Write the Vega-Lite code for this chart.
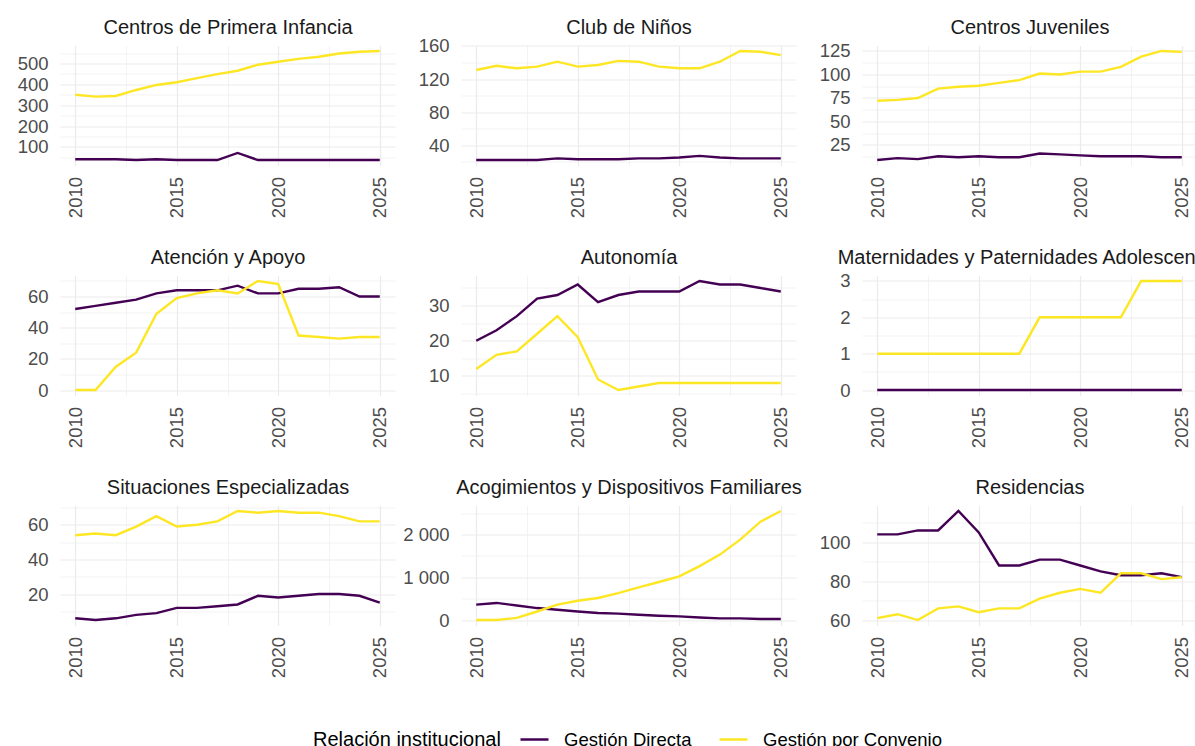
{
"$schema": "https://vega.github.io/schema/vega-lite/v6.json",
"padding": {"left": 17, "top": 17.5, "right": 0, "bottom": 0},
"bounds": "flush",
"columns": 3,
"spacing": {"row": 110, "column": 66},
"datasets": {"d": [
{"programa":"Centros de Primera Infancia","relacion":"Gestión Directa","anio":2010,"valor":41},
{"programa":"Centros de Primera Infancia","relacion":"Gestión Directa","anio":2011,"valor":41},
{"programa":"Centros de Primera Infancia","relacion":"Gestión Directa","anio":2012,"valor":41},
{"programa":"Centros de Primera Infancia","relacion":"Gestión Directa","anio":2013,"valor":37},
{"programa":"Centros de Primera Infancia","relacion":"Gestión Directa","anio":2014,"valor":41},
{"programa":"Centros de Primera Infancia","relacion":"Gestión Directa","anio":2015,"valor":37},
{"programa":"Centros de Primera Infancia","relacion":"Gestión Directa","anio":2016,"valor":37},
{"programa":"Centros de Primera Infancia","relacion":"Gestión Directa","anio":2017,"valor":37},
{"programa":"Centros de Primera Infancia","relacion":"Gestión Directa","anio":2018,"valor":71},
{"programa":"Centros de Primera Infancia","relacion":"Gestión Directa","anio":2019,"valor":37},
{"programa":"Centros de Primera Infancia","relacion":"Gestión Directa","anio":2020,"valor":37},
{"programa":"Centros de Primera Infancia","relacion":"Gestión Directa","anio":2021,"valor":37},
{"programa":"Centros de Primera Infancia","relacion":"Gestión Directa","anio":2022,"valor":37},
{"programa":"Centros de Primera Infancia","relacion":"Gestión Directa","anio":2023,"valor":37},
{"programa":"Centros de Primera Infancia","relacion":"Gestión Directa","anio":2024,"valor":37},
{"programa":"Centros de Primera Infancia","relacion":"Gestión Directa","anio":2025,"valor":37},
{"programa":"Centros de Primera Infancia","relacion":"Gestión por Convenio","anio":2010,"valor":350},
{"programa":"Centros de Primera Infancia","relacion":"Gestión por Convenio","anio":2011,"valor":341},
{"programa":"Centros de Primera Infancia","relacion":"Gestión por Convenio","anio":2012,"valor":344},
{"programa":"Centros de Primera Infancia","relacion":"Gestión por Convenio","anio":2013,"valor":373},
{"programa":"Centros de Primera Infancia","relacion":"Gestión por Convenio","anio":2014,"valor":397},
{"programa":"Centros de Primera Infancia","relacion":"Gestión por Convenio","anio":2015,"valor":410},
{"programa":"Centros de Primera Infancia","relacion":"Gestión por Convenio","anio":2016,"valor":430},
{"programa":"Centros de Primera Infancia","relacion":"Gestión por Convenio","anio":2017,"valor":449},
{"programa":"Centros de Primera Infancia","relacion":"Gestión por Convenio","anio":2018,"valor":465},
{"programa":"Centros de Primera Infancia","relacion":"Gestión por Convenio","anio":2019,"valor":494},
{"programa":"Centros de Primera Infancia","relacion":"Gestión por Convenio","anio":2020,"valor":508},
{"programa":"Centros de Primera Infancia","relacion":"Gestión por Convenio","anio":2021,"valor":522},
{"programa":"Centros de Primera Infancia","relacion":"Gestión por Convenio","anio":2022,"valor":532},
{"programa":"Centros de Primera Infancia","relacion":"Gestión por Convenio","anio":2023,"valor":548},
{"programa":"Centros de Primera Infancia","relacion":"Gestión por Convenio","anio":2024,"valor":556},
{"programa":"Centros de Primera Infancia","relacion":"Gestión por Convenio","anio":2025,"valor":560},
{"programa":"Club de Niños","relacion":"Gestión Directa","anio":2010,"valor":22},
{"programa":"Club de Niños","relacion":"Gestión Directa","anio":2011,"valor":22},
{"programa":"Club de Niños","relacion":"Gestión Directa","anio":2012,"valor":22},
{"programa":"Club de Niños","relacion":"Gestión Directa","anio":2013,"valor":22},
{"programa":"Club de Niños","relacion":"Gestión Directa","anio":2014,"valor":24},
{"programa":"Club de Niños","relacion":"Gestión Directa","anio":2015,"valor":23},
{"programa":"Club de Niños","relacion":"Gestión Directa","anio":2016,"valor":23},
{"programa":"Club de Niños","relacion":"Gestión Directa","anio":2017,"valor":23},
{"programa":"Club de Niños","relacion":"Gestión Directa","anio":2018,"valor":24},
{"programa":"Club de Niños","relacion":"Gestión Directa","anio":2019,"valor":24},
{"programa":"Club de Niños","relacion":"Gestión Directa","anio":2020,"valor":25},
{"programa":"Club de Niños","relacion":"Gestión Directa","anio":2021,"valor":27},
{"programa":"Club de Niños","relacion":"Gestión Directa","anio":2022,"valor":25},
{"programa":"Club de Niños","relacion":"Gestión Directa","anio":2023,"valor":24},
{"programa":"Club de Niños","relacion":"Gestión Directa","anio":2024,"valor":24},
{"programa":"Club de Niños","relacion":"Gestión Directa","anio":2025,"valor":24},
{"programa":"Club de Niños","relacion":"Gestión por Convenio","anio":2010,"valor":131},
{"programa":"Club de Niños","relacion":"Gestión por Convenio","anio":2011,"valor":136},
{"programa":"Club de Niños","relacion":"Gestión por Convenio","anio":2012,"valor":133},
{"programa":"Club de Niños","relacion":"Gestión por Convenio","anio":2013,"valor":135},
{"programa":"Club de Niños","relacion":"Gestión por Convenio","anio":2014,"valor":141},
{"programa":"Club de Niños","relacion":"Gestión por Convenio","anio":2015,"valor":135},
{"programa":"Club de Niños","relacion":"Gestión por Convenio","anio":2016,"valor":137},
{"programa":"Club de Niños","relacion":"Gestión por Convenio","anio":2017,"valor":142},
{"programa":"Club de Niños","relacion":"Gestión por Convenio","anio":2018,"valor":141},
{"programa":"Club de Niños","relacion":"Gestión por Convenio","anio":2019,"valor":135},
{"programa":"Club de Niños","relacion":"Gestión por Convenio","anio":2020,"valor":133},
{"programa":"Club de Niños","relacion":"Gestión por Convenio","anio":2021,"valor":133},
{"programa":"Club de Niños","relacion":"Gestión por Convenio","anio":2022,"valor":141},
{"programa":"Club de Niños","relacion":"Gestión por Convenio","anio":2023,"valor":154},
{"programa":"Club de Niños","relacion":"Gestión por Convenio","anio":2024,"valor":153},
{"programa":"Club de Niños","relacion":"Gestión por Convenio","anio":2025,"valor":149},
{"programa":"Centros Juveniles","relacion":"Gestión Directa","anio":2010,"valor":9},
{"programa":"Centros Juveniles","relacion":"Gestión Directa","anio":2011,"valor":11},
{"programa":"Centros Juveniles","relacion":"Gestión Directa","anio":2012,"valor":10},
{"programa":"Centros Juveniles","relacion":"Gestión Directa","anio":2013,"valor":13},
{"programa":"Centros Juveniles","relacion":"Gestión Directa","anio":2014,"valor":12},
{"programa":"Centros Juveniles","relacion":"Gestión Directa","anio":2015,"valor":13},
{"programa":"Centros Juveniles","relacion":"Gestión Directa","anio":2016,"valor":12},
{"programa":"Centros Juveniles","relacion":"Gestión Directa","anio":2017,"valor":12},
{"programa":"Centros Juveniles","relacion":"Gestión Directa","anio":2018,"valor":16},
{"programa":"Centros Juveniles","relacion":"Gestión Directa","anio":2019,"valor":15},
{"programa":"Centros Juveniles","relacion":"Gestión Directa","anio":2020,"valor":14},
{"programa":"Centros Juveniles","relacion":"Gestión Directa","anio":2021,"valor":13},
{"programa":"Centros Juveniles","relacion":"Gestión Directa","anio":2022,"valor":13},
{"programa":"Centros Juveniles","relacion":"Gestión Directa","anio":2023,"valor":13},
{"programa":"Centros Juveniles","relacion":"Gestión Directa","anio":2024,"valor":12},
{"programa":"Centros Juveniles","relacion":"Gestión Directa","anio":2025,"valor":12},
{"programa":"Centros Juveniles","relacion":"Gestión por Convenio","anio":2010,"valor":72},
{"programa":"Centros Juveniles","relacion":"Gestión por Convenio","anio":2011,"valor":73},
{"programa":"Centros Juveniles","relacion":"Gestión por Convenio","anio":2012,"valor":75},
{"programa":"Centros Juveniles","relacion":"Gestión por Convenio","anio":2013,"valor":85},
{"programa":"Centros Juveniles","relacion":"Gestión por Convenio","anio":2014,"valor":87},
{"programa":"Centros Juveniles","relacion":"Gestión por Convenio","anio":2015,"valor":88},
{"programa":"Centros Juveniles","relacion":"Gestión por Convenio","anio":2016,"valor":91},
{"programa":"Centros Juveniles","relacion":"Gestión por Convenio","anio":2017,"valor":94},
{"programa":"Centros Juveniles","relacion":"Gestión por Convenio","anio":2018,"valor":101},
{"programa":"Centros Juveniles","relacion":"Gestión por Convenio","anio":2019,"valor":100},
{"programa":"Centros Juveniles","relacion":"Gestión por Convenio","anio":2020,"valor":103},
{"programa":"Centros Juveniles","relacion":"Gestión por Convenio","anio":2021,"valor":103},
{"programa":"Centros Juveniles","relacion":"Gestión por Convenio","anio":2022,"valor":108},
{"programa":"Centros Juveniles","relacion":"Gestión por Convenio","anio":2023,"valor":119},
{"programa":"Centros Juveniles","relacion":"Gestión por Convenio","anio":2024,"valor":125},
{"programa":"Centros Juveniles","relacion":"Gestión por Convenio","anio":2025,"valor":124},
{"programa":"Atención y Apoyo","relacion":"Gestión Directa","anio":2010,"valor":52},
{"programa":"Atención y Apoyo","relacion":"Gestión Directa","anio":2011,"valor":54},
{"programa":"Atención y Apoyo","relacion":"Gestión Directa","anio":2012,"valor":56},
{"programa":"Atención y Apoyo","relacion":"Gestión Directa","anio":2013,"valor":58},
{"programa":"Atención y Apoyo","relacion":"Gestión Directa","anio":2014,"valor":62},
{"programa":"Atención y Apoyo","relacion":"Gestión Directa","anio":2015,"valor":64},
{"programa":"Atención y Apoyo","relacion":"Gestión Directa","anio":2016,"valor":64},
{"programa":"Atención y Apoyo","relacion":"Gestión Directa","anio":2017,"valor":64},
{"programa":"Atención y Apoyo","relacion":"Gestión Directa","anio":2018,"valor":67},
{"programa":"Atención y Apoyo","relacion":"Gestión Directa","anio":2019,"valor":62},
{"programa":"Atención y Apoyo","relacion":"Gestión Directa","anio":2020,"valor":62},
{"programa":"Atención y Apoyo","relacion":"Gestión Directa","anio":2021,"valor":65},
{"programa":"Atención y Apoyo","relacion":"Gestión Directa","anio":2022,"valor":65},
{"programa":"Atención y Apoyo","relacion":"Gestión Directa","anio":2023,"valor":66},
{"programa":"Atención y Apoyo","relacion":"Gestión Directa","anio":2024,"valor":60},
{"programa":"Atención y Apoyo","relacion":"Gestión Directa","anio":2025,"valor":60},
{"programa":"Atención y Apoyo","relacion":"Gestión por Convenio","anio":2010,"valor":0},
{"programa":"Atención y Apoyo","relacion":"Gestión por Convenio","anio":2011,"valor":0},
{"programa":"Atención y Apoyo","relacion":"Gestión por Convenio","anio":2012,"valor":15},
{"programa":"Atención y Apoyo","relacion":"Gestión por Convenio","anio":2013,"valor":24},
{"programa":"Atención y Apoyo","relacion":"Gestión por Convenio","anio":2014,"valor":49},
{"programa":"Atención y Apoyo","relacion":"Gestión por Convenio","anio":2015,"valor":59},
{"programa":"Atención y Apoyo","relacion":"Gestión por Convenio","anio":2016,"valor":62},
{"programa":"Atención y Apoyo","relacion":"Gestión por Convenio","anio":2017,"valor":64},
{"programa":"Atención y Apoyo","relacion":"Gestión por Convenio","anio":2018,"valor":62},
{"programa":"Atención y Apoyo","relacion":"Gestión por Convenio","anio":2019,"valor":70},
{"programa":"Atención y Apoyo","relacion":"Gestión por Convenio","anio":2020,"valor":68},
{"programa":"Atención y Apoyo","relacion":"Gestión por Convenio","anio":2021,"valor":35},
{"programa":"Atención y Apoyo","relacion":"Gestión por Convenio","anio":2022,"valor":34},
{"programa":"Atención y Apoyo","relacion":"Gestión por Convenio","anio":2023,"valor":33},
{"programa":"Atención y Apoyo","relacion":"Gestión por Convenio","anio":2024,"valor":34},
{"programa":"Atención y Apoyo","relacion":"Gestión por Convenio","anio":2025,"valor":34},
{"programa":"Autonomía","relacion":"Gestión Directa","anio":2010,"valor":20},
{"programa":"Autonomía","relacion":"Gestión Directa","anio":2011,"valor":23},
{"programa":"Autonomía","relacion":"Gestión Directa","anio":2012,"valor":27},
{"programa":"Autonomía","relacion":"Gestión Directa","anio":2013,"valor":32},
{"programa":"Autonomía","relacion":"Gestión Directa","anio":2014,"valor":33},
{"programa":"Autonomía","relacion":"Gestión Directa","anio":2015,"valor":36},
{"programa":"Autonomía","relacion":"Gestión Directa","anio":2016,"valor":31},
{"programa":"Autonomía","relacion":"Gestión Directa","anio":2017,"valor":33},
{"programa":"Autonomía","relacion":"Gestión Directa","anio":2018,"valor":34},
{"programa":"Autonomía","relacion":"Gestión Directa","anio":2019,"valor":34},
{"programa":"Autonomía","relacion":"Gestión Directa","anio":2020,"valor":34},
{"programa":"Autonomía","relacion":"Gestión Directa","anio":2021,"valor":37},
{"programa":"Autonomía","relacion":"Gestión Directa","anio":2022,"valor":36},
{"programa":"Autonomía","relacion":"Gestión Directa","anio":2023,"valor":36},
{"programa":"Autonomía","relacion":"Gestión Directa","anio":2024,"valor":35},
{"programa":"Autonomía","relacion":"Gestión Directa","anio":2025,"valor":34},
{"programa":"Autonomía","relacion":"Gestión por Convenio","anio":2010,"valor":12},
{"programa":"Autonomía","relacion":"Gestión por Convenio","anio":2011,"valor":16},
{"programa":"Autonomía","relacion":"Gestión por Convenio","anio":2012,"valor":17},
{"programa":"Autonomía","relacion":"Gestión por Convenio","anio":2013,"valor":22},
{"programa":"Autonomía","relacion":"Gestión por Convenio","anio":2014,"valor":27},
{"programa":"Autonomía","relacion":"Gestión por Convenio","anio":2015,"valor":21},
{"programa":"Autonomía","relacion":"Gestión por Convenio","anio":2016,"valor":9},
{"programa":"Autonomía","relacion":"Gestión por Convenio","anio":2017,"valor":6},
{"programa":"Autonomía","relacion":"Gestión por Convenio","anio":2018,"valor":7},
{"programa":"Autonomía","relacion":"Gestión por Convenio","anio":2019,"valor":8},
{"programa":"Autonomía","relacion":"Gestión por Convenio","anio":2020,"valor":8},
{"programa":"Autonomía","relacion":"Gestión por Convenio","anio":2021,"valor":8},
{"programa":"Autonomía","relacion":"Gestión por Convenio","anio":2022,"valor":8},
{"programa":"Autonomía","relacion":"Gestión por Convenio","anio":2023,"valor":8},
{"programa":"Autonomía","relacion":"Gestión por Convenio","anio":2024,"valor":8},
{"programa":"Autonomía","relacion":"Gestión por Convenio","anio":2025,"valor":8},
{"programa":"Maternidades y Paternidades Adolescentes","relacion":"Gestión Directa","anio":2010,"valor":0},
{"programa":"Maternidades y Paternidades Adolescentes","relacion":"Gestión Directa","anio":2011,"valor":0},
{"programa":"Maternidades y Paternidades Adolescentes","relacion":"Gestión Directa","anio":2012,"valor":0},
{"programa":"Maternidades y Paternidades Adolescentes","relacion":"Gestión Directa","anio":2013,"valor":0},
{"programa":"Maternidades y Paternidades Adolescentes","relacion":"Gestión Directa","anio":2014,"valor":0},
{"programa":"Maternidades y Paternidades Adolescentes","relacion":"Gestión Directa","anio":2015,"valor":0},
{"programa":"Maternidades y Paternidades Adolescentes","relacion":"Gestión Directa","anio":2016,"valor":0},
{"programa":"Maternidades y Paternidades Adolescentes","relacion":"Gestión Directa","anio":2017,"valor":0},
{"programa":"Maternidades y Paternidades Adolescentes","relacion":"Gestión Directa","anio":2018,"valor":0},
{"programa":"Maternidades y Paternidades Adolescentes","relacion":"Gestión Directa","anio":2019,"valor":0},
{"programa":"Maternidades y Paternidades Adolescentes","relacion":"Gestión Directa","anio":2020,"valor":0},
{"programa":"Maternidades y Paternidades Adolescentes","relacion":"Gestión Directa","anio":2021,"valor":0},
{"programa":"Maternidades y Paternidades Adolescentes","relacion":"Gestión Directa","anio":2022,"valor":0},
{"programa":"Maternidades y Paternidades Adolescentes","relacion":"Gestión Directa","anio":2023,"valor":0},
{"programa":"Maternidades y Paternidades Adolescentes","relacion":"Gestión Directa","anio":2024,"valor":0},
{"programa":"Maternidades y Paternidades Adolescentes","relacion":"Gestión Directa","anio":2025,"valor":0},
{"programa":"Maternidades y Paternidades Adolescentes","relacion":"Gestión por Convenio","anio":2010,"valor":1},
{"programa":"Maternidades y Paternidades Adolescentes","relacion":"Gestión por Convenio","anio":2011,"valor":1},
{"programa":"Maternidades y Paternidades Adolescentes","relacion":"Gestión por Convenio","anio":2012,"valor":1},
{"programa":"Maternidades y Paternidades Adolescentes","relacion":"Gestión por Convenio","anio":2013,"valor":1},
{"programa":"Maternidades y Paternidades Adolescentes","relacion":"Gestión por Convenio","anio":2014,"valor":1},
{"programa":"Maternidades y Paternidades Adolescentes","relacion":"Gestión por Convenio","anio":2015,"valor":1},
{"programa":"Maternidades y Paternidades Adolescentes","relacion":"Gestión por Convenio","anio":2016,"valor":1},
{"programa":"Maternidades y Paternidades Adolescentes","relacion":"Gestión por Convenio","anio":2017,"valor":1},
{"programa":"Maternidades y Paternidades Adolescentes","relacion":"Gestión por Convenio","anio":2018,"valor":2},
{"programa":"Maternidades y Paternidades Adolescentes","relacion":"Gestión por Convenio","anio":2019,"valor":2},
{"programa":"Maternidades y Paternidades Adolescentes","relacion":"Gestión por Convenio","anio":2020,"valor":2},
{"programa":"Maternidades y Paternidades Adolescentes","relacion":"Gestión por Convenio","anio":2021,"valor":2},
{"programa":"Maternidades y Paternidades Adolescentes","relacion":"Gestión por Convenio","anio":2022,"valor":2},
{"programa":"Maternidades y Paternidades Adolescentes","relacion":"Gestión por Convenio","anio":2023,"valor":3},
{"programa":"Maternidades y Paternidades Adolescentes","relacion":"Gestión por Convenio","anio":2024,"valor":3},
{"programa":"Maternidades y Paternidades Adolescentes","relacion":"Gestión por Convenio","anio":2025,"valor":3},
{"programa":"Situaciones Especializadas","relacion":"Gestión Directa","anio":2010,"valor":6},
{"programa":"Situaciones Especializadas","relacion":"Gestión Directa","anio":2011,"valor":5},
{"programa":"Situaciones Especializadas","relacion":"Gestión Directa","anio":2012,"valor":6},
{"programa":"Situaciones Especializadas","relacion":"Gestión Directa","anio":2013,"valor":8},
{"programa":"Situaciones Especializadas","relacion":"Gestión Directa","anio":2014,"valor":9},
{"programa":"Situaciones Especializadas","relacion":"Gestión Directa","anio":2015,"valor":12},
{"programa":"Situaciones Especializadas","relacion":"Gestión Directa","anio":2016,"valor":12},
{"programa":"Situaciones Especializadas","relacion":"Gestión Directa","anio":2017,"valor":13},
{"programa":"Situaciones Especializadas","relacion":"Gestión Directa","anio":2018,"valor":14},
{"programa":"Situaciones Especializadas","relacion":"Gestión Directa","anio":2019,"valor":19},
{"programa":"Situaciones Especializadas","relacion":"Gestión Directa","anio":2020,"valor":18},
{"programa":"Situaciones Especializadas","relacion":"Gestión Directa","anio":2021,"valor":19},
{"programa":"Situaciones Especializadas","relacion":"Gestión Directa","anio":2022,"valor":20},
{"programa":"Situaciones Especializadas","relacion":"Gestión Directa","anio":2023,"valor":20},
{"programa":"Situaciones Especializadas","relacion":"Gestión Directa","anio":2024,"valor":19},
{"programa":"Situaciones Especializadas","relacion":"Gestión Directa","anio":2025,"valor":15},
{"programa":"Situaciones Especializadas","relacion":"Gestión por Convenio","anio":2010,"valor":54},
{"programa":"Situaciones Especializadas","relacion":"Gestión por Convenio","anio":2011,"valor":55},
{"programa":"Situaciones Especializadas","relacion":"Gestión por Convenio","anio":2012,"valor":54},
{"programa":"Situaciones Especializadas","relacion":"Gestión por Convenio","anio":2013,"valor":59},
{"programa":"Situaciones Especializadas","relacion":"Gestión por Convenio","anio":2014,"valor":65},
{"programa":"Situaciones Especializadas","relacion":"Gestión por Convenio","anio":2015,"valor":59},
{"programa":"Situaciones Especializadas","relacion":"Gestión por Convenio","anio":2016,"valor":60},
{"programa":"Situaciones Especializadas","relacion":"Gestión por Convenio","anio":2017,"valor":62},
{"programa":"Situaciones Especializadas","relacion":"Gestión por Convenio","anio":2018,"valor":68},
{"programa":"Situaciones Especializadas","relacion":"Gestión por Convenio","anio":2019,"valor":67},
{"programa":"Situaciones Especializadas","relacion":"Gestión por Convenio","anio":2020,"valor":68},
{"programa":"Situaciones Especializadas","relacion":"Gestión por Convenio","anio":2021,"valor":67},
{"programa":"Situaciones Especializadas","relacion":"Gestión por Convenio","anio":2022,"valor":67},
{"programa":"Situaciones Especializadas","relacion":"Gestión por Convenio","anio":2023,"valor":65},
{"programa":"Situaciones Especializadas","relacion":"Gestión por Convenio","anio":2024,"valor":62},
{"programa":"Situaciones Especializadas","relacion":"Gestión por Convenio","anio":2025,"valor":62},
{"programa":"Acogimientos y Dispositivos Familiares","relacion":"Gestión Directa","anio":2010,"valor":360},
{"programa":"Acogimientos y Dispositivos Familiares","relacion":"Gestión Directa","anio":2011,"valor":400},
{"programa":"Acogimientos y Dispositivos Familiares","relacion":"Gestión Directa","anio":2012,"valor":340},
{"programa":"Acogimientos y Dispositivos Familiares","relacion":"Gestión Directa","anio":2013,"valor":280},
{"programa":"Acogimientos y Dispositivos Familiares","relacion":"Gestión Directa","anio":2014,"valor":240},
{"programa":"Acogimientos y Dispositivos Familiares","relacion":"Gestión Directa","anio":2015,"valor":200},
{"programa":"Acogimientos y Dispositivos Familiares","relacion":"Gestión Directa","anio":2016,"valor":165},
{"programa":"Acogimientos y Dispositivos Familiares","relacion":"Gestión Directa","anio":2017,"valor":150},
{"programa":"Acogimientos y Dispositivos Familiares","relacion":"Gestión Directa","anio":2018,"valor":125},
{"programa":"Acogimientos y Dispositivos Familiares","relacion":"Gestión Directa","anio":2019,"valor":100},
{"programa":"Acogimientos y Dispositivos Familiares","relacion":"Gestión Directa","anio":2020,"valor":85},
{"programa":"Acogimientos y Dispositivos Familiares","relacion":"Gestión Directa","anio":2021,"valor":60},
{"programa":"Acogimientos y Dispositivos Familiares","relacion":"Gestión Directa","anio":2022,"valor":40},
{"programa":"Acogimientos y Dispositivos Familiares","relacion":"Gestión Directa","anio":2023,"valor":40},
{"programa":"Acogimientos y Dispositivos Familiares","relacion":"Gestión Directa","anio":2024,"valor":25},
{"programa":"Acogimientos y Dispositivos Familiares","relacion":"Gestión Directa","anio":2025,"valor":25},
{"programa":"Acogimientos y Dispositivos Familiares","relacion":"Gestión por Convenio","anio":2010,"valor":0},
{"programa":"Acogimientos y Dispositivos Familiares","relacion":"Gestión por Convenio","anio":2011,"valor":0},
{"programa":"Acogimientos y Dispositivos Familiares","relacion":"Gestión por Convenio","anio":2012,"valor":50},
{"programa":"Acogimientos y Dispositivos Familiares","relacion":"Gestión por Convenio","anio":2013,"valor":200},
{"programa":"Acogimientos y Dispositivos Familiares","relacion":"Gestión por Convenio","anio":2014,"valor":360},
{"programa":"Acogimientos y Dispositivos Familiares","relacion":"Gestión por Convenio","anio":2015,"valor":450},
{"programa":"Acogimientos y Dispositivos Familiares","relacion":"Gestión por Convenio","anio":2016,"valor":515},
{"programa":"Acogimientos y Dispositivos Familiares","relacion":"Gestión por Convenio","anio":2017,"valor":630},
{"programa":"Acogimientos y Dispositivos Familiares","relacion":"Gestión por Convenio","anio":2018,"valor":765},
{"programa":"Acogimientos y Dispositivos Familiares","relacion":"Gestión por Convenio","anio":2019,"valor":890},
{"programa":"Acogimientos y Dispositivos Familiares","relacion":"Gestión por Convenio","anio":2020,"valor":1020},
{"programa":"Acogimientos y Dispositivos Familiares","relacion":"Gestión por Convenio","anio":2021,"valor":1260},
{"programa":"Acogimientos y Dispositivos Familiares","relacion":"Gestión por Convenio","anio":2022,"valor":1530},
{"programa":"Acogimientos y Dispositivos Familiares","relacion":"Gestión por Convenio","anio":2023,"valor":1880},
{"programa":"Acogimientos y Dispositivos Familiares","relacion":"Gestión por Convenio","anio":2024,"valor":2300},
{"programa":"Acogimientos y Dispositivos Familiares","relacion":"Gestión por Convenio","anio":2025,"valor":2550},
{"programa":"Residencias","relacion":"Gestión Directa","anio":2010,"valor":104},
{"programa":"Residencias","relacion":"Gestión Directa","anio":2011,"valor":104},
{"programa":"Residencias","relacion":"Gestión Directa","anio":2012,"valor":106},
{"programa":"Residencias","relacion":"Gestión Directa","anio":2013,"valor":106},
{"programa":"Residencias","relacion":"Gestión Directa","anio":2014,"valor":116},
{"programa":"Residencias","relacion":"Gestión Directa","anio":2015,"valor":105},
{"programa":"Residencias","relacion":"Gestión Directa","anio":2016,"valor":88},
{"programa":"Residencias","relacion":"Gestión Directa","anio":2017,"valor":88},
{"programa":"Residencias","relacion":"Gestión Directa","anio":2018,"valor":91},
{"programa":"Residencias","relacion":"Gestión Directa","anio":2019,"valor":91},
{"programa":"Residencias","relacion":"Gestión Directa","anio":2020,"valor":88},
{"programa":"Residencias","relacion":"Gestión Directa","anio":2021,"valor":85},
{"programa":"Residencias","relacion":"Gestión Directa","anio":2022,"valor":83},
{"programa":"Residencias","relacion":"Gestión Directa","anio":2023,"valor":83},
{"programa":"Residencias","relacion":"Gestión Directa","anio":2024,"valor":84},
{"programa":"Residencias","relacion":"Gestión Directa","anio":2025,"valor":82},
{"programa":"Residencias","relacion":"Gestión por Convenio","anio":2010,"valor":61},
{"programa":"Residencias","relacion":"Gestión por Convenio","anio":2011,"valor":63},
{"programa":"Residencias","relacion":"Gestión por Convenio","anio":2012,"valor":60},
{"programa":"Residencias","relacion":"Gestión por Convenio","anio":2013,"valor":66},
{"programa":"Residencias","relacion":"Gestión por Convenio","anio":2014,"valor":67},
{"programa":"Residencias","relacion":"Gestión por Convenio","anio":2015,"valor":64},
{"programa":"Residencias","relacion":"Gestión por Convenio","anio":2016,"valor":66},
{"programa":"Residencias","relacion":"Gestión por Convenio","anio":2017,"valor":66},
{"programa":"Residencias","relacion":"Gestión por Convenio","anio":2018,"valor":71},
{"programa":"Residencias","relacion":"Gestión por Convenio","anio":2019,"valor":74},
{"programa":"Residencias","relacion":"Gestión por Convenio","anio":2020,"valor":76},
{"programa":"Residencias","relacion":"Gestión por Convenio","anio":2021,"valor":74},
{"programa":"Residencias","relacion":"Gestión por Convenio","anio":2022,"valor":84},
{"programa":"Residencias","relacion":"Gestión por Convenio","anio":2023,"valor":84},
{"programa":"Residencias","relacion":"Gestión por Convenio","anio":2024,"valor":81},
{"programa":"Residencias","relacion":"Gestión por Convenio","anio":2025,"valor":82}
]},
"data": {"name": "d"},
"concat": [
{"width": 335, "height": 120,
 "transform": [{"filter": "datum.programa === 'Centros de Primera Infancia'"}],
 "layer": [
  {"mark": {"type": "line", "strokeWidth": 2.4},
   "encoding": {
    "x": {"field": "anio", "type": "quantitative", "title": null, "scale": {"domain": [2009.25, 2025.75], "nice": false, "zero": false}, "axis": {"values": [2010, 2012.5, 2015, 2017.5, 2020, 2022.5, 2025], "labelExpr": "datum.value % 5 === 0 ? '' + datum.value : ''", "gridWidth": {"condition": {"test": "datum.value % 5 === 0", "value": 1.2}, "value": 0.6}}},
    "y": {"field": "valor", "type": "quantitative", "title": null, "scale": {"domain": [10.85, 586.15], "nice": false, "zero": false}, "axis": {"values": [50, 100, 150, 200, 250, 300, 350, 400, 450, 500, 550], "labelExpr": "datum.value % 100 === 0 ? '' + datum.value : ''", "gridWidth": {"condition": {"test": "datum.value % 100 === 0", "value": 1.2}, "value": 0.6}}},
    "color": {"field": "relacion", "type": "nominal", "scale": {"domain": ["Gestión Directa", "Gestión por Convenio"], "range": ["#440154", "#FDE725"]}, "legend": {"title": "Relación institucional"}}}},
  {"mark": {"type": "rule", "opacity": 0},
   "encoding": {"x": {"field": "anio", "type": "quantitative", "axis": {"orient": "top", "title": "Centros de Primera Infancia"}}}}
 ],
 "resolve": {"axis": {"x": "independent"}}},
{"width": 335, "height": 120,
 "transform": [{"filter": "datum.programa === 'Club de Niños'"}],
 "layer": [
  {"mark": {"type": "line", "strokeWidth": 2.4},
   "encoding": {
    "x": {"field": "anio", "type": "quantitative", "title": null, "scale": {"domain": [2009.25, 2025.75], "nice": false, "zero": false}, "axis": {"values": [2010, 2012.5, 2015, 2017.5, 2020, 2022.5, 2025], "labelExpr": "datum.value % 5 === 0 ? '' + datum.value : ''", "gridWidth": {"condition": {"test": "datum.value % 5 === 0", "value": 1.2}, "value": 0.6}}},
    "y": {"field": "valor", "type": "quantitative", "title": null, "scale": {"domain": [15.4, 160.6], "nice": false, "zero": false}, "axis": {"values": [20, 40, 60, 80, 100, 120, 140, 160], "labelExpr": "datum.value % 40 === 0 ? '' + datum.value : ''", "gridWidth": {"condition": {"test": "datum.value % 40 === 0", "value": 1.2}, "value": 0.6}}},
    "color": {"field": "relacion", "type": "nominal", "scale": {"domain": ["Gestión Directa", "Gestión por Convenio"], "range": ["#440154", "#FDE725"]}, "legend": {"title": "Relación institucional"}}}},
  {"mark": {"type": "rule", "opacity": 0},
   "encoding": {"x": {"field": "anio", "type": "quantitative", "axis": {"orient": "top", "title": "Club de Niños"}}}}
 ],
 "resolve": {"axis": {"x": "independent"}}},
{"width": 335, "height": 120,
 "transform": [{"filter": "datum.programa === 'Centros Juveniles'"}],
 "layer": [
  {"mark": {"type": "line", "strokeWidth": 2.4},
   "encoding": {
    "x": {"field": "anio", "type": "quantitative", "title": null, "scale": {"domain": [2009.25, 2025.75], "nice": false, "zero": false}, "axis": {"values": [2010, 2012.5, 2015, 2017.5, 2020, 2022.5, 2025], "labelExpr": "datum.value % 5 === 0 ? '' + datum.value : ''", "gridWidth": {"condition": {"test": "datum.value % 5 === 0", "value": 1.2}, "value": 0.6}}},
    "y": {"field": "valor", "type": "quantitative", "title": null, "scale": {"domain": [3.2, 130.8], "nice": false, "zero": false}, "axis": {"values": [12.5, 25, 37.5, 50, 62.5, 75, 87.5, 100, 112.5, 125], "labelExpr": "datum.value % 25 === 0 ? '' + datum.value : ''", "gridWidth": {"condition": {"test": "datum.value % 25 === 0", "value": 1.2}, "value": 0.6}}},
    "color": {"field": "relacion", "type": "nominal", "scale": {"domain": ["Gestión Directa", "Gestión por Convenio"], "range": ["#440154", "#FDE725"]}, "legend": {"title": "Relación institucional"}}}},
  {"mark": {"type": "rule", "opacity": 0},
   "encoding": {"x": {"field": "anio", "type": "quantitative", "axis": {"orient": "top", "title": "Centros Juveniles"}}}}
 ],
 "resolve": {"axis": {"x": "independent"}}},
{"width": 335, "height": 120,
 "transform": [{"filter": "datum.programa === 'Atención y Apoyo'"}],
 "layer": [
  {"mark": {"type": "line", "strokeWidth": 2.4},
   "encoding": {
    "x": {"field": "anio", "type": "quantitative", "title": null, "scale": {"domain": [2009.25, 2025.75], "nice": false, "zero": false}, "axis": {"values": [2010, 2012.5, 2015, 2017.5, 2020, 2022.5, 2025], "labelExpr": "datum.value % 5 === 0 ? '' + datum.value : ''", "gridWidth": {"condition": {"test": "datum.value % 5 === 0", "value": 1.2}, "value": 0.6}}},
    "y": {"field": "valor", "type": "quantitative", "title": null, "scale": {"domain": [-3.5, 73.5], "nice": false, "zero": false}, "axis": {"values": [0, 10, 20, 30, 40, 50, 60, 70], "labelExpr": "datum.value % 20 === 0 ? '' + datum.value : ''", "gridWidth": {"condition": {"test": "datum.value % 20 === 0", "value": 1.2}, "value": 0.6}}},
    "color": {"field": "relacion", "type": "nominal", "scale": {"domain": ["Gestión Directa", "Gestión por Convenio"], "range": ["#440154", "#FDE725"]}, "legend": {"title": "Relación institucional"}}}},
  {"mark": {"type": "rule", "opacity": 0},
   "encoding": {"x": {"field": "anio", "type": "quantitative", "axis": {"orient": "top", "title": "Atención y Apoyo"}}}}
 ],
 "resolve": {"axis": {"x": "independent"}}},
{"width": 335, "height": 120,
 "transform": [{"filter": "datum.programa === 'Autonomía'"}],
 "layer": [
  {"mark": {"type": "line", "strokeWidth": 2.4},
   "encoding": {
    "x": {"field": "anio", "type": "quantitative", "title": null, "scale": {"domain": [2009.25, 2025.75], "nice": false, "zero": false}, "axis": {"values": [2010, 2012.5, 2015, 2017.5, 2020, 2022.5, 2025], "labelExpr": "datum.value % 5 === 0 ? '' + datum.value : ''", "gridWidth": {"condition": {"test": "datum.value % 5 === 0", "value": 1.2}, "value": 0.6}}},
    "y": {"field": "valor", "type": "quantitative", "title": null, "scale": {"domain": [4.45, 38.55], "nice": false, "zero": false}, "axis": {"values": [5, 10, 15, 20, 25, 30, 35], "labelExpr": "datum.value % 10 === 0 ? '' + datum.value : ''", "gridWidth": {"condition": {"test": "datum.value % 10 === 0", "value": 1.2}, "value": 0.6}}},
    "color": {"field": "relacion", "type": "nominal", "scale": {"domain": ["Gestión Directa", "Gestión por Convenio"], "range": ["#440154", "#FDE725"]}, "legend": {"title": "Relación institucional"}}}},
  {"mark": {"type": "rule", "opacity": 0},
   "encoding": {"x": {"field": "anio", "type": "quantitative", "axis": {"orient": "top", "title": "Autonomía"}}}}
 ],
 "resolve": {"axis": {"x": "independent"}}},
{"width": 335, "height": 120,
 "transform": [{"filter": "datum.programa === 'Maternidades y Paternidades Adolescentes'"}],
 "layer": [
  {"mark": {"type": "line", "strokeWidth": 2.4},
   "encoding": {
    "x": {"field": "anio", "type": "quantitative", "title": null, "scale": {"domain": [2009.25, 2025.75], "nice": false, "zero": false}, "axis": {"values": [2010, 2012.5, 2015, 2017.5, 2020, 2022.5, 2025], "labelExpr": "datum.value % 5 === 0 ? '' + datum.value : ''", "gridWidth": {"condition": {"test": "datum.value % 5 === 0", "value": 1.2}, "value": 0.6}}},
    "y": {"field": "valor", "type": "quantitative", "title": null, "scale": {"domain": [-0.15, 3.15], "nice": false, "zero": false}, "axis": {"values": [0, 0.5, 1, 1.5, 2, 2.5, 3], "labelExpr": "datum.value % 1 === 0 ? '' + datum.value : ''", "gridWidth": {"condition": {"test": "datum.value % 1 === 0", "value": 1.2}, "value": 0.6}}},
    "color": {"field": "relacion", "type": "nominal", "scale": {"domain": ["Gestión Directa", "Gestión por Convenio"], "range": ["#440154", "#FDE725"]}, "legend": {"title": "Relación institucional"}}}},
  {"mark": {"type": "rule", "opacity": 0},
   "encoding": {"x": {"field": "anio", "type": "quantitative", "axis": {"orient": "top", "title": "Maternidades y Paternidades Adolescentes"}}}}
 ],
 "resolve": {"axis": {"x": "independent"}}},
{"width": 335, "height": 120,
 "transform": [{"filter": "datum.programa === 'Situaciones Especializadas'"}],
 "layer": [
  {"mark": {"type": "line", "strokeWidth": 2.4},
   "encoding": {
    "x": {"field": "anio", "type": "quantitative", "title": null, "scale": {"domain": [2009.25, 2025.75], "nice": false, "zero": false}, "axis": {"values": [2010, 2012.5, 2015, 2017.5, 2020, 2022.5, 2025], "labelExpr": "datum.value % 5 === 0 ? '' + datum.value : ''", "gridWidth": {"condition": {"test": "datum.value % 5 === 0", "value": 1.2}, "value": 0.6}}},
    "y": {"field": "valor", "type": "quantitative", "title": null, "scale": {"domain": [1.85, 71.15], "nice": false, "zero": false}, "axis": {"values": [10, 20, 30, 40, 50, 60, 70], "labelExpr": "datum.value % 20 === 0 ? '' + datum.value : ''", "gridWidth": {"condition": {"test": "datum.value % 20 === 0", "value": 1.2}, "value": 0.6}}},
    "color": {"field": "relacion", "type": "nominal", "scale": {"domain": ["Gestión Directa", "Gestión por Convenio"], "range": ["#440154", "#FDE725"]}, "legend": {"title": "Relación institucional"}}}},
  {"mark": {"type": "rule", "opacity": 0},
   "encoding": {"x": {"field": "anio", "type": "quantitative", "axis": {"orient": "top", "title": "Situaciones Especializadas"}}}}
 ],
 "resolve": {"axis": {"x": "independent"}}},
{"width": 335, "height": 120,
 "transform": [{"filter": "datum.programa === 'Acogimientos y Dispositivos Familiares'"}],
 "layer": [
  {"mark": {"type": "line", "strokeWidth": 2.4},
   "encoding": {
    "x": {"field": "anio", "type": "quantitative", "title": null, "scale": {"domain": [2009.25, 2025.75], "nice": false, "zero": false}, "axis": {"values": [2010, 2012.5, 2015, 2017.5, 2020, 2022.5, 2025], "labelExpr": "datum.value % 5 === 0 ? '' + datum.value : ''", "gridWidth": {"condition": {"test": "datum.value % 5 === 0", "value": 1.2}, "value": 0.6}}},
    "y": {"field": "valor", "type": "quantitative", "title": null, "scale": {"domain": [-127.5, 2677.5], "nice": false, "zero": false}, "axis": {"values": [0, 500, 1000, 1500, 2000, 2500], "labelExpr": "datum.value % 1000 === 0 ? replace(format(datum.value, ','), ',', ' ') : ''", "gridWidth": {"condition": {"test": "datum.value % 1000 === 0", "value": 1.2}, "value": 0.6}}},
    "color": {"field": "relacion", "type": "nominal", "scale": {"domain": ["Gestión Directa", "Gestión por Convenio"], "range": ["#440154", "#FDE725"]}, "legend": {"title": "Relación institucional"}}}},
  {"mark": {"type": "rule", "opacity": 0},
   "encoding": {"x": {"field": "anio", "type": "quantitative", "axis": {"orient": "top", "title": "Acogimientos y Dispositivos Familiares"}}}}
 ],
 "resolve": {"axis": {"x": "independent"}}},
{"width": 335, "height": 120,
 "transform": [{"filter": "datum.programa === 'Residencias'"}],
 "layer": [
  {"mark": {"type": "line", "strokeWidth": 2.4},
   "encoding": {
    "x": {"field": "anio", "type": "quantitative", "title": null, "scale": {"domain": [2009.25, 2025.75], "nice": false, "zero": false}, "axis": {"values": [2010, 2012.5, 2015, 2017.5, 2020, 2022.5, 2025], "labelExpr": "datum.value % 5 === 0 ? '' + datum.value : ''", "gridWidth": {"condition": {"test": "datum.value % 5 === 0", "value": 1.2}, "value": 0.6}}},
    "y": {"field": "valor", "type": "quantitative", "title": null, "scale": {"domain": [57.2, 118.8], "nice": false, "zero": false}, "axis": {"values": [60, 70, 80, 90, 100, 110], "labelExpr": "datum.value % 20 === 0 ? '' + datum.value : ''", "gridWidth": {"condition": {"test": "datum.value % 20 === 0", "value": 1.2}, "value": 0.6}}},
    "color": {"field": "relacion", "type": "nominal", "scale": {"domain": ["Gestión Directa", "Gestión por Convenio"], "range": ["#440154", "#FDE725"]}, "legend": {"title": "Relación institucional"}}}},
  {"mark": {"type": "rule", "opacity": 0},
   "encoding": {"x": {"field": "anio", "type": "quantitative", "axis": {"orient": "top", "title": "Residencias"}}}}
 ],
 "resolve": {"axis": {"x": "independent"}}}
],
"config": {
 "font": "Liberation Sans",
 "view": {"stroke": null},
 "axis": {"domain": false, "ticks": false, "labelFont": "Liberation Sans", "labelFontSize": 18.5, "labelColor": "#4D4D4D", "gridColor": "#EBEBEB", "labelPadding": 12, "labelFlush": false, "labelOverlap": false, "labelBound": false},
 "axisBottom": {"labelAngle": -90, "labelPadding": 11},
 "axisTop": {"labels": false, "grid": false, "ticks": false, "domain": false, "titleFont": "Liberation Sans", "titleFontSize": 20, "titleFontWeight": "normal", "titleColor": "#1A1A1A", "titlePadding": 12, "titleBaseline": "alphabetic", "titleLimit": 1000},
 "legend": {"orient": "none", "legendX": 253, "legendY": 678.5, "direction": "horizontal", "titleOrient": "left", "titleAnchor": "middle", "titleBaseline": "line-top", "titleLineHeight": 6.4, "titleFont": "Liberation Sans", "titleFontSize": 20, "titleFontWeight": "normal", "titleColor": "#000000", "titleLimit": 600, "labelFont": "Liberation Sans", "labelFontSize": 18.5, "labelColor": "#000000", "symbolType": "stroke", "symbolStrokeWidth": 2.5, "symbolSize": 784, "labelOffset": 14, "columnPadding": 22, "titlePadding": 18, "labelLimit": 400}
}
}
